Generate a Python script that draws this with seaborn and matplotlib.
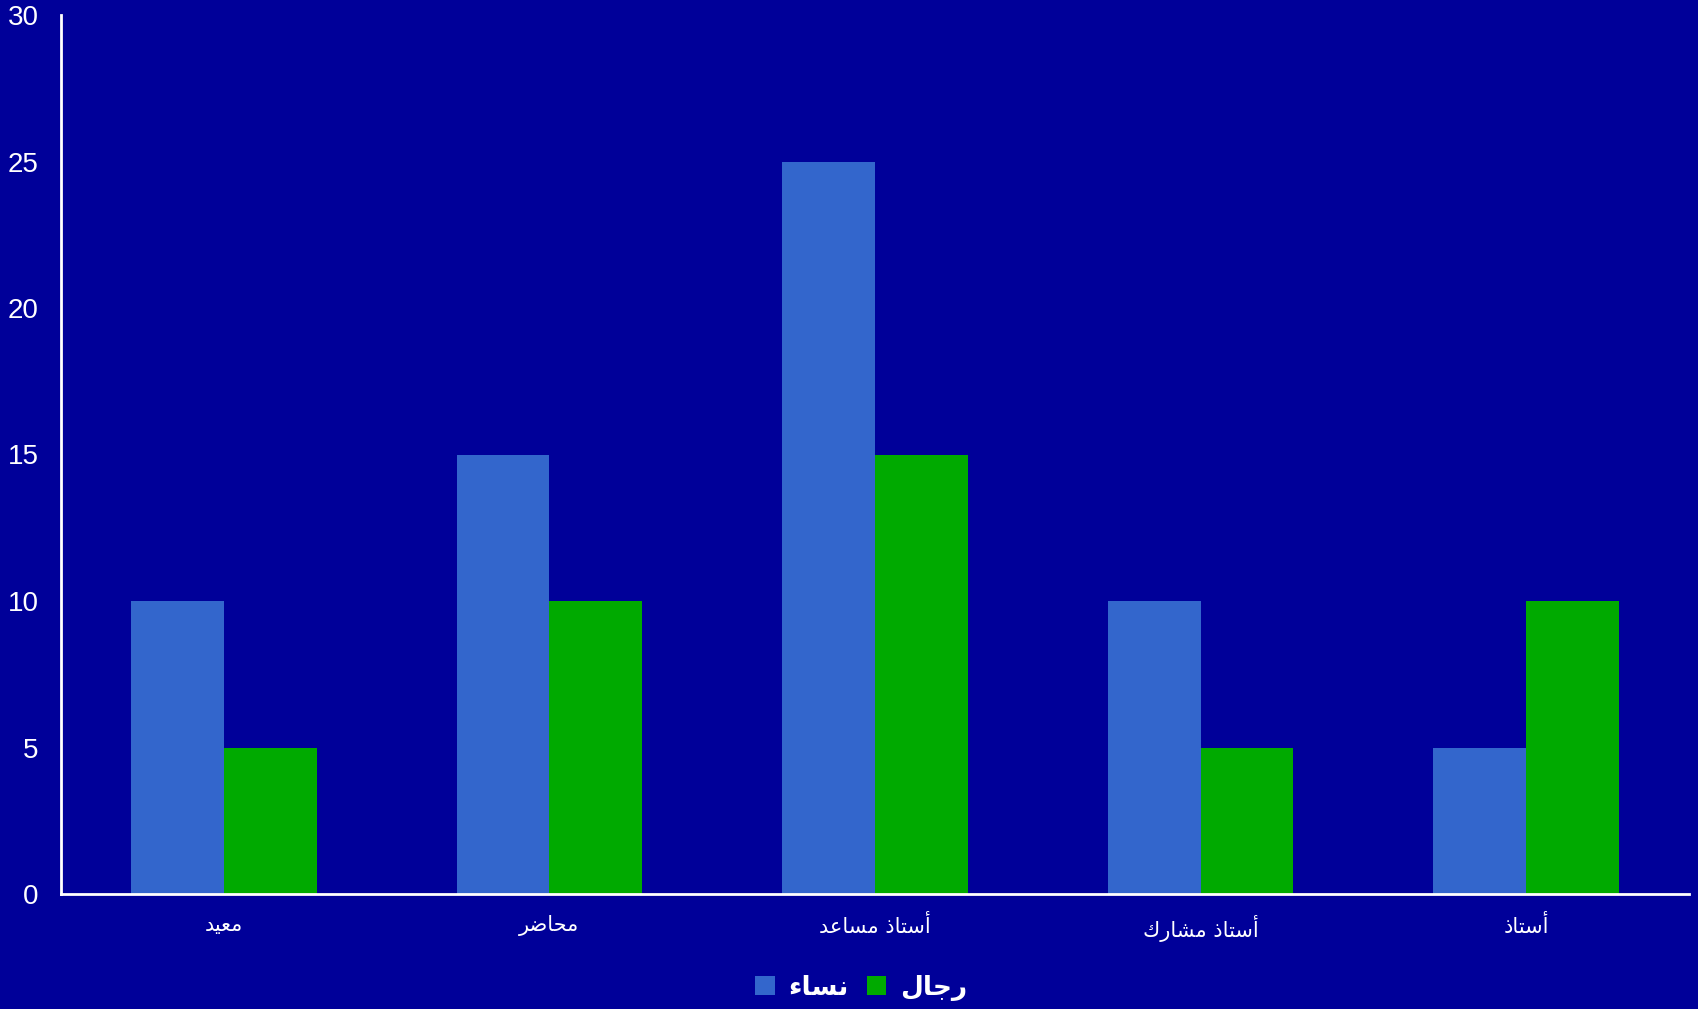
import matplotlib
matplotlib.use("Agg")
import matplotlib.pyplot as plt
import seaborn as sns
import pandas as pd

categories = ["معيد", "محاضر", "أستاذ مساعد", "أستاذ مشارك", "أستاذ"]
series_names = ["نساء", "رجال"]
women = [10, 15, 25, 10, 5]
men = [5, 10, 15, 5, 10]
y_ticks = [0, 5, 10, 15, 20, 25, 30]

colors = ["#3366CC", "#00AA00"]
bg = "#000099"

FORMS = {
    'ء': ('\uFE80', None, None, None),
    'أ': ('\uFE83', '\uFE84', None, None),
    'ا': ('\uFE8D', '\uFE8E', None, None),
    'ت': ('\uFE95', '\uFE96', '\uFE97', '\uFE98'),
    'ج': ('\uFE9D', '\uFE9E', '\uFE9F', '\uFEA0'),
    'ح': ('\uFEA1', '\uFEA2', '\uFEA3', '\uFEA4'),
    'د': ('\uFEA9', '\uFEAA', None, None),
    'ذ': ('\uFEAB', '\uFEAC', None, None),
    'ر': ('\uFEAD', '\uFEAE', None, None),
    'س': ('\uFEB1', '\uFEB2', '\uFEB3', '\uFEB4'),
    'ش': ('\uFEB5', '\uFEB6', '\uFEB7', '\uFEB8'),
    'ض': ('\uFEBD', '\uFEBE', '\uFEBF', '\uFEC0'),
    'ع': ('\uFEC9', '\uFECA', '\uFECB', '\uFECC'),
    'ك': ('\uFED9', '\uFEDA', '\uFEDB', '\uFEDC'),
    'ل': ('\uFEDD', '\uFEDE', '\uFEDF', '\uFEE0'),
    'م': ('\uFEE1', '\uFEE2', '\uFEE3', '\uFEE4'),
    'ن': ('\uFEE5', '\uFEE6', '\uFEE7', '\uFEE8'),
    'ي': ('\uFEF1', '\uFEF2', '\uFEF3', '\uFEF4'),
}


def shape(word):
    out = []
    n = len(word)
    for i, c in enumerate(word):
        f = FORMS.get(c)
        if f is None:
            out.append(c)
            continue
        prev = word[i - 1] if i > 0 else None
        nxt = word[i + 1] if i < n - 1 else None
        jp = prev in FORMS and FORMS[prev][2] is not None
        jn = (nxt in FORMS) and f[2] is not None
        if jp and jn:
            g = f[3]
        elif jp:
            g = f[1]
        elif jn:
            g = f[2]
        else:
            g = f[0]
        out.append(g)
    return ''.join(out)[::-1]


sns.set_theme(style="white")
plt.rcParams['font.family'] = ['Liberation Sans', 'DejaVu Sans']

df = pd.DataFrame({
    "cat": categories * 2,
    "val": women + men,
    "ser": [series_names[0]] * len(categories) + [series_names[1]] * len(categories),
})

fig = plt.figure(figsize=(16.98, 10.09), dpi=100, facecolor=bg)
ax = fig.add_axes([61 / 1698, 1 - 894 / 1009, (1689 - 61) / 1698, (894 - 15) / 1009])
ax.set_facecolor(bg)

sns.barplot(data=df, x="cat", y="val", hue="ser", order=categories,
            hue_order=series_names, palette=colors, width=0.57,
            saturation=1, ax=ax, edgecolor="none", linewidth=0)

ax.set_xlim(-0.5, len(categories) - 0.5)
ax.set_ylim(0, 30)
ax.set_yticks(y_ticks)
ax.set_yticklabels([str(t) for t in y_ticks], color="white", fontsize=20,
                   family=['Liberation Sans', 'DejaVu Sans'])
ax.set_xticks(range(len(categories)))
ax.set_xticklabels([shape(c) for c in categories], color="white", fontsize=15,
                   family=['DejaVu Sans'])
ax.tick_params(axis='both', length=0)
ax.tick_params(axis='y', pad=16)
ax.tick_params(axis='x', pad=15)
ax.set_xlabel("")
ax.set_ylabel("")
for s in ["top", "right"]:
    ax.spines[s].set_visible(False)
for s in ["left", "bottom"]:
    ax.spines[s].set_color("white")
    ax.spines[s].set_linewidth(2)
ax.grid(False)

handles, labels = ax.get_legend_handles_labels()
ax.get_legend().remove()
leg = fig.legend(handles, [shape(l) for l in labels], loc="center",
                 bbox_to_anchor=(0.507, 0.021), ncol=2, frameon=False,
                 handlelength=0.75, handleheight=0.75, handletextpad=0.5,
                 columnspacing=0.7,
                 prop={'family': ['DejaVu Sans'], 'weight': 'bold', 'size': 19})
for t in leg.get_texts():
    t.set_color("white")

fig.savefig("out.png", dpi=100, facecolor=bg)
